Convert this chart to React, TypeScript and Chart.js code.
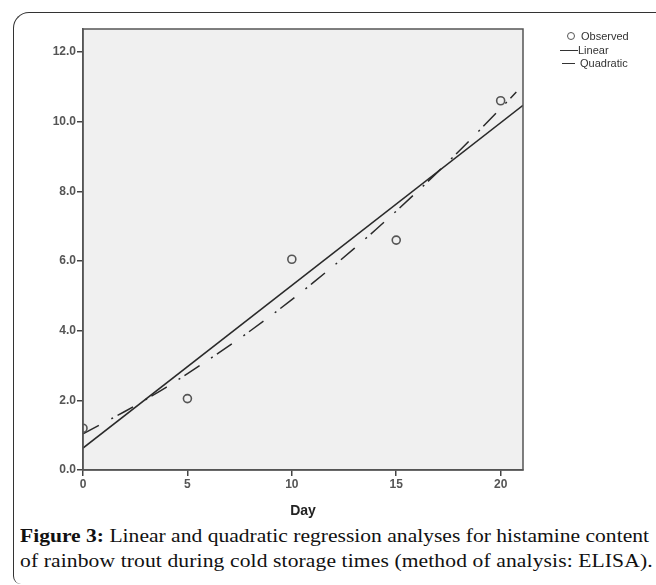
import React, { useEffect, useRef } from "react";
import { Chart, registerables } from "chart.js";

Chart.register(...registerables);

// ---- data ----
const days = [0, 5, 10, 15, 20];
const observed = [1.2, 2.05, 6.05, 6.6, 10.6];
const linearX = [0, 21.07];
const linearY = [0.63, 10.47];
const quadX = [0, 2, 4, 6, 8, 10, 12, 14, 16, 18, 20, 20.75];
const quadY = [1.04, 1.68, 2.38, 3.16, 3.99, 4.89, 5.86, 6.89, 7.99, 9.15, 10.38, 10.85];
const xTicks = [0, 5, 10, 15, 20];
const yTicks = [0, 2, 4, 6, 8, 10, 12];
const legendLabels = ["Observed", "Linear", "Quadratic"];
const xTitle = "Day";
const captionBold = "Figure 3:";
const captionLine1 = " Linear and quadratic regression analyses for histamine content";
const captionLine2 = "of rainbow trout during cold storage times (method of analysis: ELISA).";

const plotBg = {
  id: "plotBg",
  beforeDraw(chart: any) {
    const { ctx, chartArea: a } = chart;
    ctx.save();
    ctx.fillStyle = "#f0f0f0";
    ctx.fillRect(a.left, a.top, a.right - a.left, a.bottom - a.top);
    ctx.restore();
  },
  afterDraw(chart: any) {
    const { ctx, chartArea: a } = chart;
    ctx.save();
    ctx.strokeStyle = "#555";
    ctx.lineWidth = 1.5;
    ctx.strokeRect(a.left, a.top, a.right - a.left, a.bottom - a.top);
    ctx.restore();
  },
};

export default function App() {
  const ref = useRef<HTMLCanvasElement>(null);
  useEffect(() => {
    if (!ref.current) return;
    const tickFont = { family: "'Liberation Sans', Arial, sans-serif", size: 12, weight: "bold" };
    const chart = new Chart(ref.current, {
      type: "scatter",
      data: {
        datasets: [
          {
            label: legendLabels[0],
            data: days.map((d, i) => ({ x: d, y: observed[i] })),
            pointRadius: 4,
            pointBorderWidth: 1.6,
            pointBorderColor: "#555",
            pointBackgroundColor: "rgba(0,0,0,0)",
            showLine: false,
          },
          {
            label: legendLabels[1],
            data: linearX.map((d, i) => ({ x: d, y: linearY[i] })),
            showLine: true,
            pointRadius: 0,
            borderColor: "#2a2a2a",
            borderWidth: 1.5,
          },
          {
            label: legendLabels[2],
            data: quadX.map((d, i) => ({ x: d, y: quadY[i] })),
            showLine: true,
            pointRadius: 0,
            borderColor: "#2a2a2a",
            borderWidth: 1.5,
            borderDash: [18, 14, 2, 5],
            tension: 0.3,
          },
        ],
      },
      options: {
        animation: false,
        responsive: false,
        layout: { padding: { top: 29, right: 133, left: 0, bottom: 0 } },
        plugins: { legend: { display: false }, tooltip: { enabled: false } },
        scales: {
          x: {
            type: "linear",
            min: 0,
            max: 21.07,
            afterBuildTicks: (s: any) => {
              s.ticks = xTicks.map((v) => ({ value: v }));
            },
            afterFit: (s: any) => {
              s.height = 50;
            },
            ticks: { color: "#555", font: tickFont, padding: 1, callback: (v: any) => String(v) },
            grid: { drawOnChartArea: false, drawTicks: true, tickLength: 6, color: "#444", lineWidth: 1.5 },
            border: { display: true, color: "#555", width: 1.5 },
            title: {
              display: true,
              text: xTitle,
              color: "#222",
              font: { family: "'Liberation Sans', Arial, sans-serif", size: 14, weight: "bold" },
              padding: { top: 0, bottom: 0 },
            },
          },
          y: {
            type: "linear",
            min: 0,
            max: 12.66,
            afterBuildTicks: (s: any) => {
              s.ticks = yTicks.map((v) => ({ value: v }));
            },
            afterFit: (s: any) => {
              s.width = 83;
            },
            ticks: { color: "#555", font: tickFont, padding: 1, callback: (v: any) => Number(v).toFixed(1) },
            grid: { drawOnChartArea: false, drawTicks: true, tickLength: 6, color: "#444", lineWidth: 1.5 },
            border: { display: true, color: "#555", width: 1.5 },
          },
        },
      },
      plugins: [plotBg],
    } as any);
    return () => chart.destroy();
  }, []);

  const legendText: React.CSSProperties = {
    position: "absolute",
    fontFamily: "'Liberation Sans', Arial, sans-serif",
    fontSize: 11,
    color: "#333",
    lineHeight: "13px",
    whiteSpace: "nowrap",
  };

  return (
    <div style={{ position: "absolute", left: 0, top: 0, width: 656, height: 585, background: "#fff", overflow: "hidden" }}>
      <div
        style={{
          position: "absolute",
          left: 13,
          top: 12,
          width: 660,
          height: 572,
          borderLeft: "1.5px solid #333",
          borderTop: "1.5px solid #333",
          borderTopLeftRadius: 16,
          borderBottomLeftRadius: 8,
          boxSizing: "border-box",
        }}
      />
      <canvas ref={ref} width={656} height={520} style={{ position: "absolute", left: 0, top: 0, width: 656, height: 520 }} />
      {/* legend */}
      <div
        style={{
          position: "absolute",
          left: 567,
          top: 32,
          width: 8,
          height: 8,
          borderRadius: "50%",
          border: "1.5px solid #555",
          boxSizing: "border-box",
        }}
      />
      <div style={{ ...legendText, left: 581, top: 29.5 }}>{legendLabels[0]}</div>
      <div style={{ position: "absolute", left: 560, top: 50, width: 18, height: 0, borderTop: "1.5px solid #333" }} />
      <div style={{ ...legendText, left: 578, top: 43.5 }}>{legendLabels[1]}</div>
      <div style={{ position: "absolute", left: 562, top: 63, width: 13, height: 0, borderTop: "1.5px solid #333" }} />
      <div style={{ ...legendText, left: 580, top: 56.5 }}>{legendLabels[2]}</div>
      {/* caption */}
      <div
        style={{
          position: "absolute",
          left: 20,
          top: 523,
          fontFamily: "'Liberation Serif', 'DejaVu Serif', serif",
          fontSize: 19,
          lineHeight: "25px",
          color: "#111",
          whiteSpace: "nowrap",
          transform: "scaleX(1.135)",
          transformOrigin: "left top",
        }}
      >
        <div>
          <b>{captionBold}</b>
          {captionLine1}
        </div>
        <div style={{ letterSpacing: "0.1px" }}>{captionLine2}</div>
      </div>
    </div>
  );
}
